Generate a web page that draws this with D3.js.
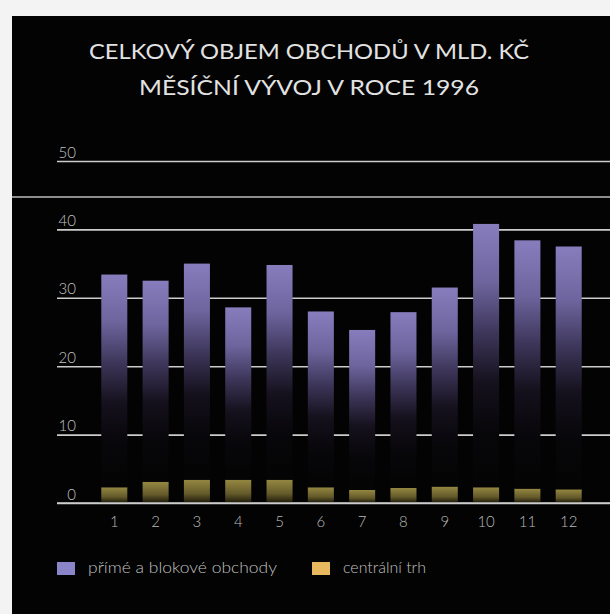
<!DOCTYPE html>
<html>
<head>
<meta charset="utf-8">
<script src="https://cdn.jsdelivr.net/npm/d3@7"></script>
<style>
  body { margin: 0; background: #f3f3f3; }
  svg { display: block; }
  text { font-family: Lato, "Open Sans", sans-serif; fill: #cfcfcf; font-weight: 300; }
</style>
</head>
<body>
<svg width="610" height="614"></svg>
<script>
// data (mld. Kc, months of 1996)
const months = ["1", "2", "3", "4", "5", "6", "7", "8", "9", "10", "11", "12"];
const centralni = [2.3, 3.1, 3.4, 3.4, 3.4, 2.3, 1.9, 2.2, 2.4, 2.3, 2.1, 2.0];
const prime = [31.1, 29.4, 31.6, 25.2, 31.4, 25.7, 23.4, 25.7, 29.1, 38.5, 36.3, 35.5];
const yTicks = [0, 10, 20, 30, 40, 50];
const titleLines = ["CELKOVÝ OBJEM OBCHODŮ V MLD. KČ", "MĚSÍČNÍ VÝVOJ V ROCE 1996"];
const legendItems = ["přímé a blokové obchody", "centrální trh"];

const svg = d3.select("svg");
const width = 610, height = 614;

const table = months.map((m, i) => ({ month: m, centralni: centralni[i], prime: prime[i] }));
const stack = d3.stack().keys(["centralni", "prime"])(table);

const x = d3.scaleBand().domain(months).range([86, 597]).padding(0.37);
const y = d3.scaleLinear().domain([0, 50]).range([503, 161]);

// gradients
const defs = svg.append("defs");
const gp = defs.append("linearGradient").attr("id", "gPrime")
  .attr("x1", 0).attr("y1", 0).attr("x2", 0).attr("y2", 1);
gp.append("stop").attr("offset", 0).attr("stop-color", "#877dbd");
gp.append("stop").attr("offset", 0.22).attr("stop-color", "#6e659e");
gp.append("stop").attr("offset", 0.42).attr("stop-color", "#3c3558");
gp.append("stop").attr("offset", 0.6).attr("stop-color", "#15111d");
gp.append("stop").attr("offset", 0.8).attr("stop-color", "#070609");
gp.append("stop").attr("offset", 1).attr("stop-color", "#040404");

const gc = defs.append("linearGradient").attr("id", "gCent")
  .attr("x1", 0).attr("y1", 0).attr("x2", 0).attr("y2", 1);
gc.append("stop").attr("offset", 0).attr("stop-color", "#958842");
gc.append("stop").attr("offset", 0.6).attr("stop-color", "#645a2a");
gc.append("stop").attr("offset", 1).attr("stop-color", "#1c180a");

// panel
svg.append("rect").attr("x", 12).attr("y", 16)
  .attr("width", width - 12).attr("height", height - 16).attr("fill", "#030303");

// title
svg.append("g").selectAll("text").data(titleLines).join("text")
  .attr("x", 309)
  .attr("y", (d, i) => 59 + i * 36)
  .attr("text-anchor", "middle")
  .attr("font-size", 22)
  .attr("textLength", (d, i) => i ? 340 : 440)
  .attr("lengthAdjust", "spacingAndGlyphs")
  .style("font-weight", 400)
  .style("fill", "#e2e2e2")
  .text(d => d);

// crease in the scan
svg.append("line").attr("x1", 12).attr("x2", width)
  .attr("y1", 197).attr("y2", 197)
  .attr("stroke", "#bdbdbd").attr("stroke-width", 1.5);

// y axis grid
const yAxis = svg.append("g")
  .attr("transform", "translate(57,0)")
  .call(d3.axisLeft(y).tickValues(yTicks).tickSize(-(width - 57)).tickFormat(d3.format("d")));
yAxis.select(".domain").remove();
yAxis.selectAll(".tick line").attr("stroke", "#cccccc").attr("stroke-width", 1.6);
yAxis.selectAll(".tick text")
  .attr("x", 19).attr("dy", -4)
  .attr("text-anchor", "end")
  .attr("font-size", 15)
  .style("fill", "#c4c4c4");

// bars
const colors = { centralni: "url(#gCent)", prime: "url(#gPrime)" };
svg.append("g").selectAll("g").data(stack).join("g")
  .attr("fill", d => colors[d.key])
  .selectAll("rect").data(d => d).join("rect")
  .attr("x", d => x(d.data.month))
  .attr("width", x.bandwidth())
  .attr("y", d => y(d[1]))
  .attr("height", d => y(d[0]) - y(d[1]));

// zero line on top
svg.append("line").attr("x1", 57).attr("x2", width)
  .attr("y1", y(0)).attr("y2", y(0))
  .attr("stroke", "#cccccc").attr("stroke-width", 1.6);

// x axis
const xAxis = svg.append("g")
  .attr("transform", `translate(0,${y(0)})`)
  .call(d3.axisBottom(x).tickSize(0));
xAxis.select(".domain").remove();
xAxis.selectAll(".tick text")
  .attr("y", 24).attr("dy", 0)
  .attr("font-size", 15)
  .style("fill", "#bababa");

// legend
const legendColors = ["#8a84c8", "#e8b85e"];
const legendX = [57, 312];
const legendLen = [189, 83];
const leg = svg.append("g").selectAll("g").data(legendItems).join("g")
  .attr("transform", (d, i) => `translate(${legendX[i]},562)`);
leg.append("rect").attr("width", 18).attr("height", 13)
  .attr("fill", (d, i) => legendColors[i]);
leg.append("text").attr("x", 31).attr("y", 11)
  .attr("font-size", 16)
  .attr("textLength", (d, i) => legendLen[i])
  .attr("lengthAdjust", "spacingAndGlyphs")
  .style("fill", "#c0c0c0")
  .text(d => d);
</script>
</body>
</html>
